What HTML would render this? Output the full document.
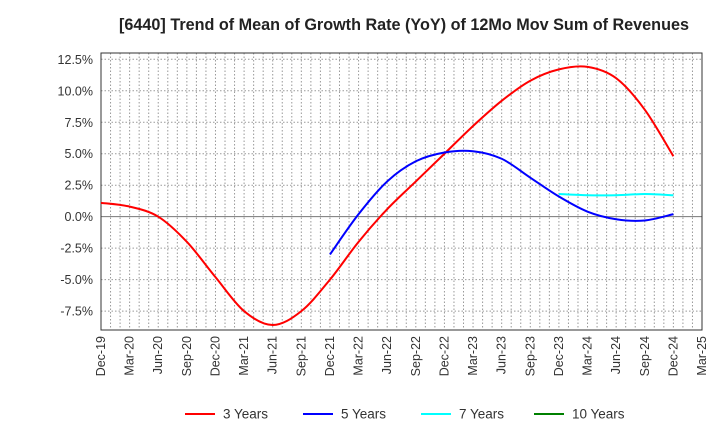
<!DOCTYPE html>
<html><head><meta charset="utf-8"><style>
body{margin:0;background:#fff;font-family:"Liberation Sans",sans-serif}
</style></head><body>
<svg id="c" width="720" height="440" viewBox="0 0 720 440" xmlns="http://www.w3.org/2000/svg"></svg>
<script>
const xLabels=["Dec-19","Mar-20","Jun-20","Sep-20","Dec-20","Mar-21","Jun-21","Sep-21","Dec-21","Mar-22","Jun-22","Sep-22","Dec-22","Mar-23","Jun-23","Sep-23","Dec-23","Mar-24","Jun-24","Sep-24","Dec-24","Mar-25"];
const yTicks=[-7.5,-5,-2.5,0,2.5,5,7.5,10,12.5];
const yTickLabels=["-7.5%","-5.0%","-2.5%","0.0%","2.5%","5.0%","7.5%","10.0%","12.5%"];
const seriesNames=["3 Years","5 Years","7 Years","10 Years"];
const seriesColors=["#ff0000","#0000ff","#00ffff","#008000"];
const s3Start=0;
const s3=[1.1,0.8,0.0,-2.0,-4.8,-7.5,-8.6,-7.5,-5.0,-2.0,0.6,2.8,5.0,7.2,9.2,10.8,11.7,11.9,11.0,8.5,4.8];
const s5Start=8;
const s5=[-3.0,0.2,2.8,4.4,5.1,5.2,4.6,3.1,1.6,0.4,-0.2,-0.3,0.2];
const s7Start=16;
const s7=[1.8,1.7,1.7,1.8,1.7];
const s10Start=0;
const s10=[];

const L=101,R=702,T=53,B=330,yMin=-9,yMax=13;
const xs=i=>L+i*(R-L)/21;
const ys=v=>B-(v-yMin)/(yMax-yMin)*(B-T);
const svg=document.getElementById('c');const NS="http://www.w3.org/2000/svg";
function mk(t,a,p){const e=document.createElementNS(NS,t);for(const k in a)e.setAttribute(k,a[k]);(p||svg).appendChild(e);return e;}
let t=mk('text',{x:404,y:30,'text-anchor':'middle','font-size':16.2,'font-weight':'bold',fill:'#222'});


t.textContent="[6440]  Trend of Mean of Growth Rate (YoY) of 12Mo Mov Sum of Revenues";
const g=mk('g',{});


for(let m=1;m<63;m++){const x=L+m*(R-L)/63;mk('line',{x1:x,x2:x,y1:T,y2:B,stroke:'#999','stroke-dasharray':'1.5,2','stroke-width':1},g);}
yTicks.forEach((v,i)=>{const y=ys(v);
mk('line',{x1:L,x2:R,y1:y,y2:y,stroke:v===0?'#777':'#999','stroke-dasharray':v===0?'':'1.5,2','stroke-width':1},g);
const tl=mk('text',{x:L-8,y:y+4.5,'text-anchor':'end','font-size':12.5,fill:'#333'});


tl.textContent=yTickLabels[i];});
xLabels.forEach((s,i)=>{const x=xs(i);
const tl=mk('text',{transform:`translate(${x+4},${B+6}) rotate(-90)`,'text-anchor':'end','font-size':12.5,fill:'#333'});


tl.textContent=s;});
const fr=mk('rect',{x:L,y:T,width:R-L,height:B-T,fill:'none',stroke:'#333','stroke-width':1});


function path(vals,start){const p=vals.map((v,i)=>[xs(start+i),ys(v)]);if(p.length<2)return '';
let d=`M${p[0][0]},${p[0][1]}`;for(let i=0;i<p.length-1;i++){const p0=p[Math.max(0,i-1)],p1=p[i],p2=p[i+1],p3=p[Math.min(p.length-1,i+2)];
d+=` C${p1[0]+(p2[0]-p0[0])/6},${p1[1]+(p2[1]-p0[1])/6} ${p2[0]-(p3[0]-p1[0])/6},${p2[1]-(p3[1]-p1[1])/6} ${p2[0]},${p2[1]}`;}return d;}
[[s3,s3Start],[s5,s5Start],[s7,s7Start],[s10,s10Start]].forEach((s,i)=>{const d=path(s[0],s[1]);if(!d)return;
const e=mk('path',{d:d,fill:'none',stroke:seriesColors[i],'stroke-width':2});

});
const lx=[185,303,421,534];
seriesNames.forEach((n,i)=>{const lg=mk('g',{});


mk('line',{x1:lx[i],x2:lx[i]+30,y1:414,y2:414,stroke:seriesColors[i],'stroke-width':2},lg);
const tt=mk('text',{x:lx[i]+38,y:418.5,'font-size':13.5,fill:'#333'},lg);tt.textContent=n;});
</script>
</body></html>
